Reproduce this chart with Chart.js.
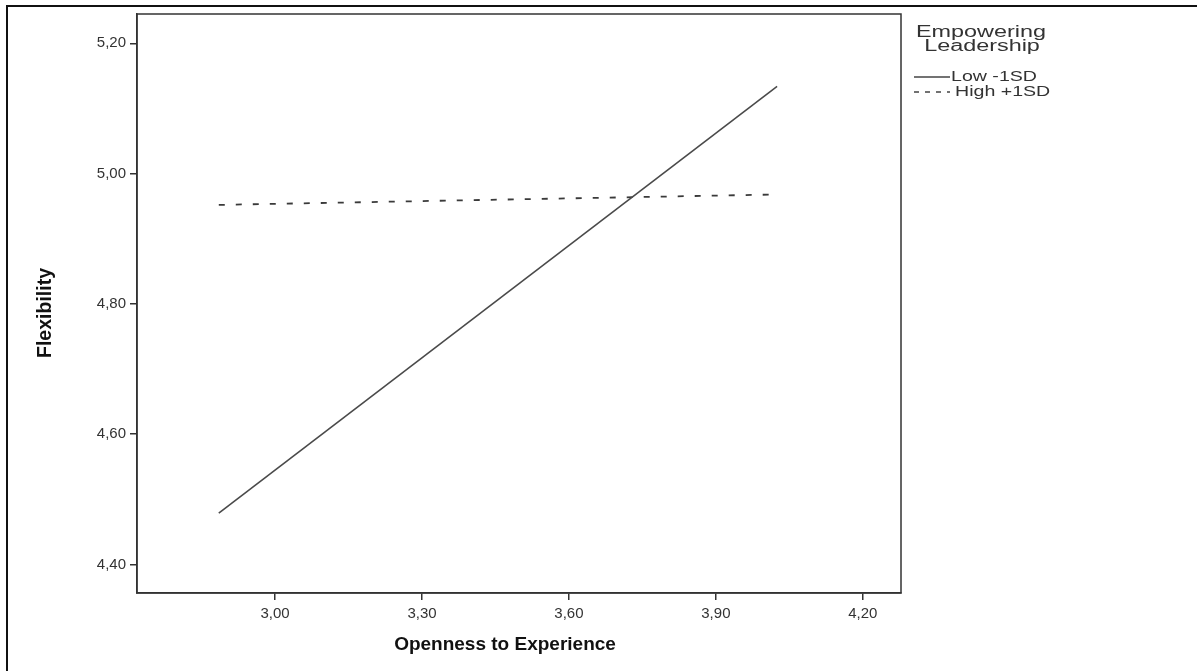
<!DOCTYPE html>
<html lang="en">
<head>
	<meta charset="UTF-8">
	<title>Flexibility by Openness to Experience</title>
	<script src="https://cdn.jsdelivr.net/npm/chart.js@4.4.1/dist/chart.umd.min.js"></script>
	<style>
		html, body {
			margin: 0;
			padding: 0;
			background: #fff;
			overflow: hidden;
		}

		#canvasContainer {
			width: 1197px;
			height: 671px;
		}
	</style>
</head>

<body>
	<div id="canvasContainer">
		<canvas id="chart" width="1197" height="671"></canvas>
	</div>

	<script>
		// values
		const opennessX = [2.885, 4.025];
		const lowSD = [4.479, 5.134];
		const highSD = [4.952, 4.968];
		const seriesNames = ["Low -1SD", "High +1SD"];
		const legendTitle = ["Empowering", "Leadership"];
		const xTitle = "Openness to Experience";
		const yTitle = "Flexibility";
		const xTicks = [3.00, 3.30, 3.60, 3.90, 4.20];
		const yTicks = [4.40, 4.60, 4.80, 5.00, 5.20];

		const ink = "#333333";
		const sans = "'Liberation Sans', Arial, sans-serif";
		const fmt = v => v.toFixed(2).replace(".", ",");

		const toPoints = ys => opennessX.map((x, i) => ({ x: x, y: ys[i] }));

		// outer frame (only left and top edge show) + box round the plot
		const framePlugin = {
			id: "frame",
			afterDraw(chart) {
				const c = chart.ctx;
				const a = chart.chartArea;
				c.save();
				c.strokeStyle = "#111";
				c.lineWidth = 2;
				c.beginPath();
				c.moveTo(7, 671);
				c.lineTo(7, 6);
				c.lineTo(1197, 6);
				c.stroke();

				c.strokeStyle = ink;
				c.lineWidth = 1.5;
				c.strokeRect(a.left, a.top, a.right - a.left, a.bottom - a.top);
				c.restore();
			}
		};

		// axis titles, placed by hand like the SPSS output
		const titlesPlugin = {
			id: "axisTitles",
			afterDraw(chart) {
				const c = chart.ctx;
				c.save();
				c.fillStyle = "#111";
				c.textAlign = "center";
				c.textBaseline = "middle";
				c.font = "bold 19px " + sans;
				c.fillText(xTitle, 505, 645);

				c.translate(45, 313);
				c.rotate(-Math.PI / 2);
				c.font = "bold 21px " + sans;
				const w = c.measureText(yTitle).width;
				c.scale(90 / w, 1);
				c.fillText(yTitle, 0, 0);
				c.restore();
			}
		};

		// SPSS style legend at the right, its text is drawn a bit wide as in the picture
		const legendPlugin = {
			id: "spssLegend",
			afterDraw(chart) {
				const c = chart.ctx;
				c.save();
				c.fillStyle = ink;
				c.textBaseline = "middle";

				const wide = (text, x, y, align, stretch) => {
					c.save();
					c.translate(x, y);
					c.scale(stretch, 1);
					c.textAlign = align;
					c.fillText(text, 0, 0);
					c.restore();
				};

				c.font = "16px " + sans;
				const titleStretch = 130 / c.measureText(legendTitle[0]).width;
				wide(legendTitle[0], 981, 33, "center", titleStretch);
				wide(legendTitle[1], 982, 46.5, "center", titleStretch);

				c.font = "15px " + sans;
				const itemStretch = 86 / c.measureText(seriesNames[0]).width;
				const rows = [77, 92];
				const dashes = [[], [5, 6]];
				for (let i = 0; i < seriesNames.length; i++) {
					c.strokeStyle = "#444";
					c.lineWidth = 1.5;
					c.setLineDash(dashes[i]);
					c.beginPath();
					c.moveTo(914, rows[i]);
					c.lineTo(950, rows[i]);
					c.stroke();
					c.setLineDash([]);
					wide(seriesNames[i], i === 0 ? 951 : 955, rows[i], "left", itemStretch);
				}
				c.restore();
			}
		};

		const tickFont = { family: sans, size: 15 };

		const config = {
			type: "scatter",
			data: {
				datasets: [
					{
						label: seriesNames[0],
						data: toPoints(lowSD),
						showLine: true,
						borderColor: "#4a4a4a",
						borderWidth: 1.6,
						pointRadius: 0
					},
					{
						label: seriesNames[1],
						data: toPoints(highSD),
						showLine: true,
						borderColor: "#3a3a3a",
						borderWidth: 1.8,
						borderDash: [6, 11],
						pointRadius: 0
					}
				]
			},
			plugins: [framePlugin, titlesPlugin, legendPlugin],
			options: {
				responsive: false,
				animation: false,
				events: [],
				layout: {
					padding: { left: 0, top: 14, right: 296, bottom: 0 }
				},
				plugins: {
					legend: { display: false },
					tooltip: { enabled: false }
				},
				scales: {
					x: {
						type: "linear",
						min: 2.718,
						max: 4.278,
						afterBuildTicks: axis => { axis.ticks = xTicks.map(v => ({ value: v })); },
						afterFit: axis => { axis.height = 78; },
						grid: { drawOnChartArea: false, drawTicks: true, tickLength: 7, color: ink, lineWidth: 1.5 },
						border: { display: true, color: ink, width: 1.5 },
						ticks: {
							color: ink,
							font: tickFont,
							padding: 5,
							maxRotation: 0,
							callback: v => fmt(v)
						}
					},
					y: {
						type: "linear",
						min: 4.3563,
						max: 5.245,
						afterBuildTicks: axis => { axis.ticks = yTicks.map(v => ({ value: v })); },
						afterFit: axis => { axis.width = 137; },
						grid: { drawOnChartArea: false, drawTicks: true, tickLength: 7, color: ink, lineWidth: 1.5 },
						border: { display: true, color: ink, width: 1.5 },
						ticks: {
							color: ink,
							font: tickFont,
							padding: 4,
							callback: v => fmt(v)
						}
					}
				}
			}
		};

		const chart = new Chart(document.getElementById("chart").getContext("2d"), config);
	</script>
</body>

</html>
